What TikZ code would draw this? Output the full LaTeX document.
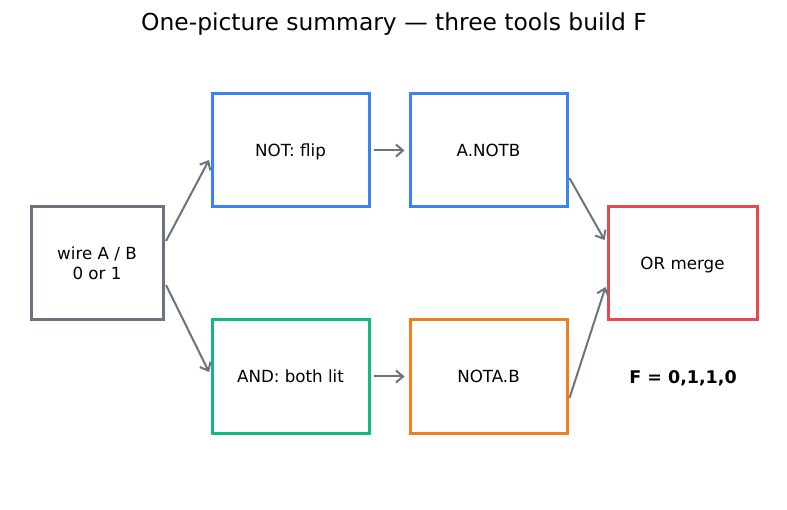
\documentclass[tikz,border=0pt]{standalone}
\usepackage{fontspec}
\setmainfont{DejaVu Sans}
\usetikzlibrary{arrows.meta}
\definecolor{wiregray}{HTML}{6B7280}
\definecolor{notblue}{HTML}{3B82F6}
\definecolor{andgreen}{HTML}{10B981}
\definecolor{nandorange}{HTML}{F07F1E}
\definecolor{orred}{HTML}{E5484D}

\begin{document}
\begin{tikzpicture}[x=1pt,y=-1pt,
  gate/.style={draw,line width=3pt,minimum width=157pt,minimum height=113pt,font=\fontsize{16.7}{20}\selectfont,align=center,inner sep=0pt,text depth=0pt},
  wire/.style={-{Straight Barb[length=7pt,width=12pt]},wiregray,line width=2pt}]
\useasboundingbox (0,0) rectangle (787,510);
% The title
\node[font=\fontsize{23.4}{27}\selectfont] (title) at (394,24) {One-picture summary — three tools build F};
% The boxes
\node[gate,draw=wiregray,minimum width=132pt] (inp) at (97,263.5) {wire A / B\\0 or 1};
\node[gate,draw=notblue] (nt) at (290.5,150.5) {NOT: flip};
\node[gate,draw=notblue] (anb) at (488.5,150.5) {A.NOTB};
\node[gate,draw=andgreen] (nd) at (290.5,376.5) {AND: both lit};
\node[gate,draw=nandorange] (nab) at (488.5,376.5) {NOTA.B};
\node[gate,draw=orred,minimum width=149pt] (orm) at (682.5,263.5) {OR merge};
\node[font=\fontsize{17.5}{20}\selectfont\bfseries,text depth=0pt] (res) at (683,377) {F = 0,1,1,0};
% The arrows
\draw[wire] ([shift={(1.5,-22.5)}]inp.east) -- ([shift={(-1.5,9.5)}]nt.west);
\draw[wire] ([shift={(1.5,21.5)}]inp.east) -- ([shift={(-1.5,-4.5)}]nd.west);
\draw[wire] ([xshift=3]nt.east) -- ([xshift=-4]anb.west);
\draw[wire] ([xshift=3]nd.east) -- ([xshift=-4]nab.west);
\draw[wire] ([shift={(1,27.5)}]anb.east) -- ([shift={(-2,-23.5)}]orm.west);
\draw[wire] ([shift={(1,21.5)}]nab.east) -- ([shift={(-1,23.5)}]orm.west);
\end{tikzpicture}
\end{document}
